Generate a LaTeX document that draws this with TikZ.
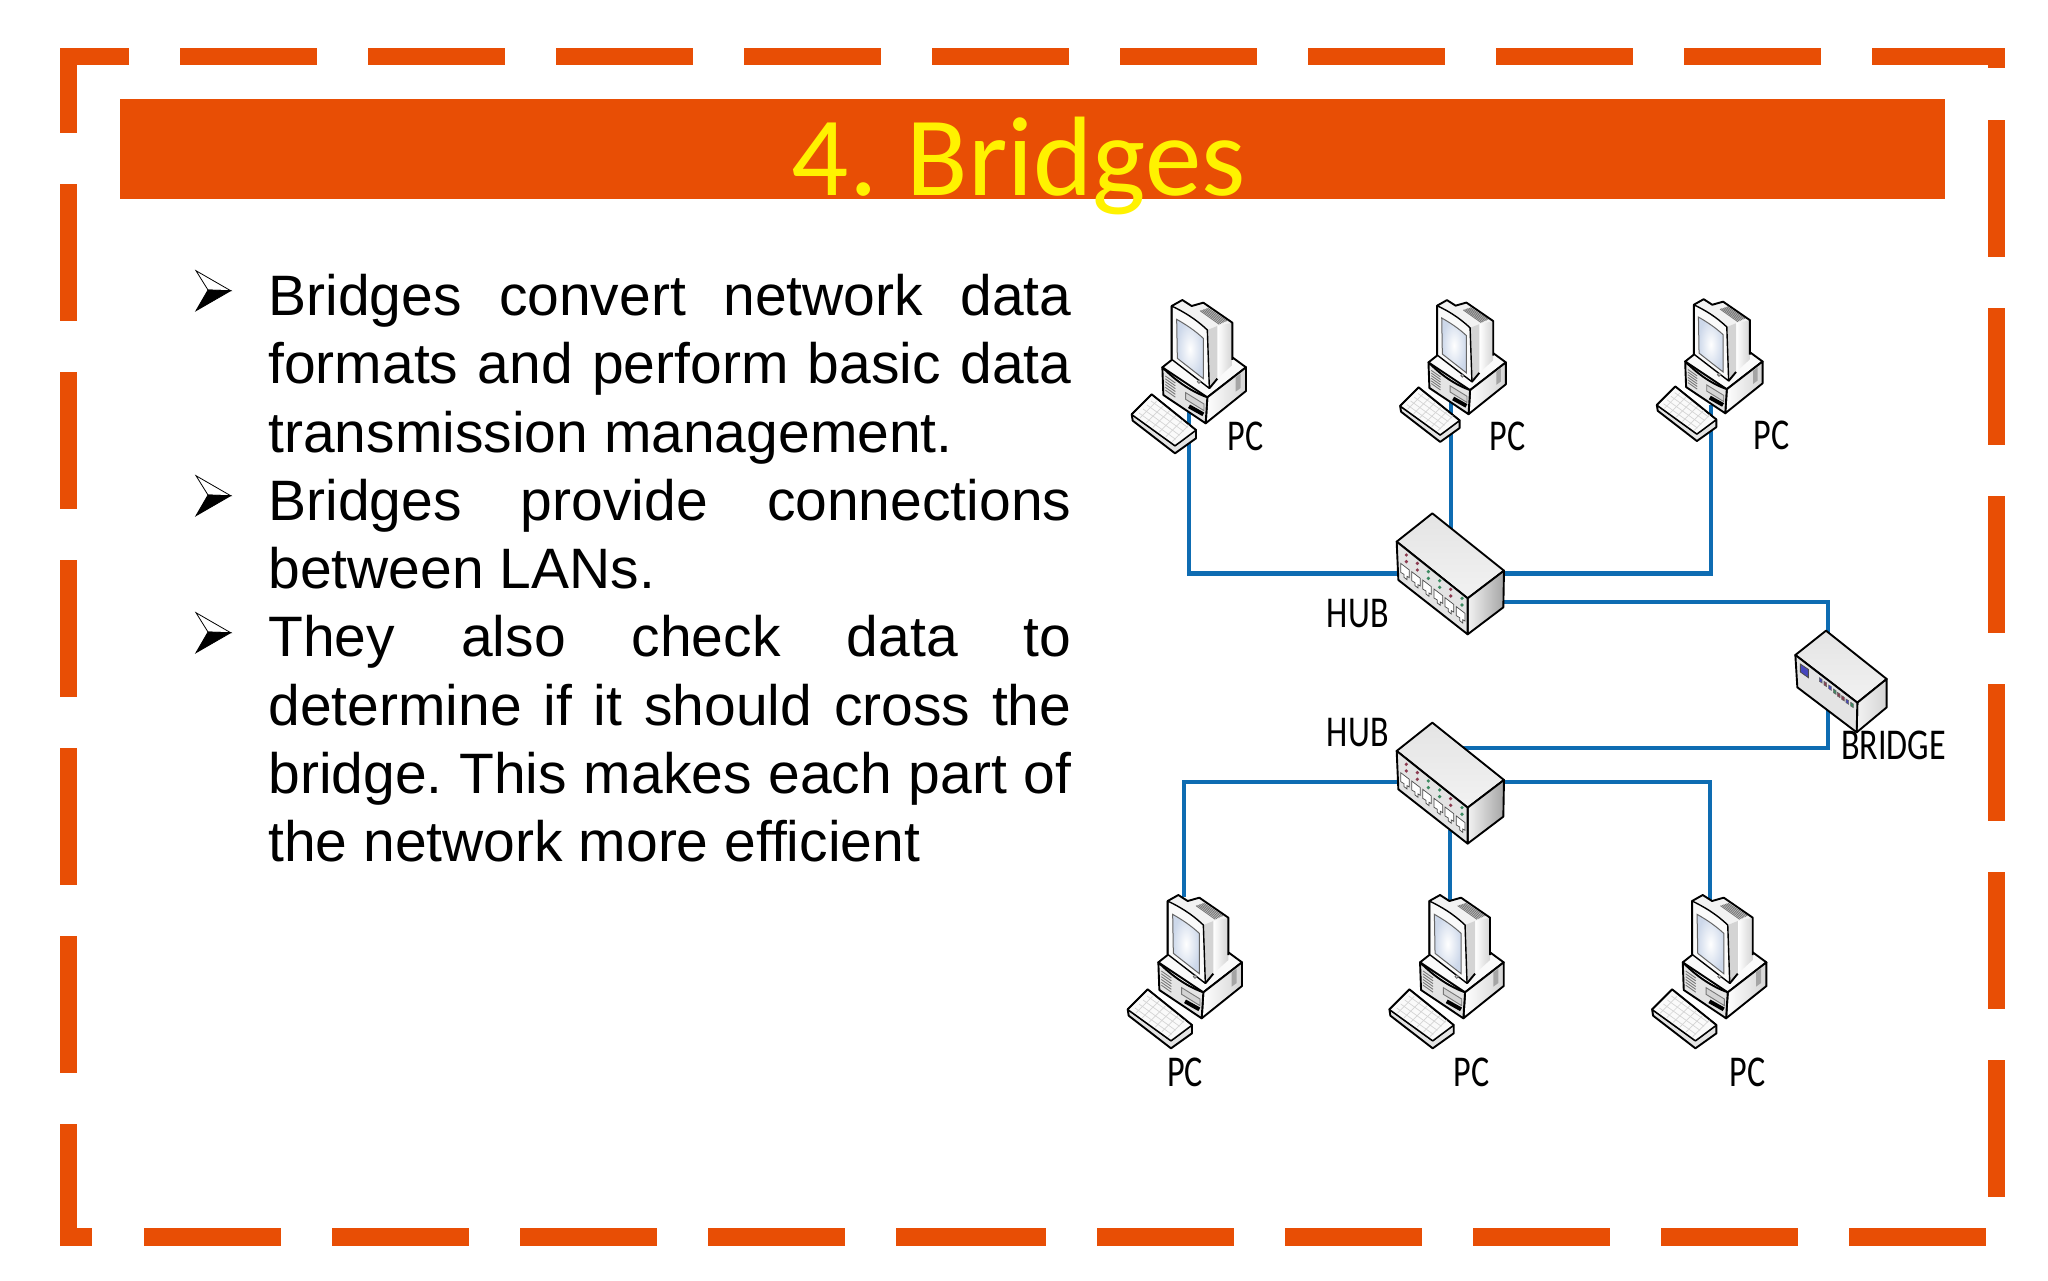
\documentclass[tikz,border=0pt]{standalone}
\usepackage{fontspec}
\setmainfont{Liberation Sans}
\newfontfamily\titlefont{Carlito}
\newfontfamily\labelfont[FakeStretch=0.775]{Carlito}
\definecolor{accent}{RGB}{232,78,5}
\definecolor{wirecol}{RGB}{14,108,178}
\definecolor{gW}{RGB}{250,250,250}
\definecolor{gA}{RGB}{242,242,242}
\definecolor{gB}{RGB}{228,228,228}
\definecolor{gC}{RGB}{212,212,212}
\definecolor{gD}{RGB}{165,165,165}
\definecolor{gE}{RGB}{120,120,120}
\definecolor{scr}{RGB}{205,216,234}
\definecolor{ledr}{RGB}{140,58,80}
\definecolor{ledg}{RGB}{58,138,96}
\definecolor{ledb}{RGB}{70,70,190}
\tikzset{
  outl/.style={draw=black,line width=.95pt,line join=round},
  hair/.style={draw=gE,line width=.45pt},
  keyline/.style={draw=gC,line width=.35pt},
  wire/.style={draw=wirecol,line width=2.2pt,line join=miter},
  pclabel/.style={anchor=base,inner sep=0pt,font=\labelfont\fontsize{22}{26}\selectfont},
  arrowbullet/.pic={
    \path[draw=black,fill=white,line width=.4pt,line join=miter] (-34.7,-20) -- (0,0) -- (-22.7,-.7) -- cycle;
    \path[draw=black,fill=black,line width=.4pt,line join=miter] (-22.7,-.7) -- (0,0) -- (-34.7,20) -- cycle;
  },
  pcicon/.pic={
    % base
    \path[outl,fill=gW] (127,262)--(165,232)--(337,232)--(378,262)--(262,352)--cycle;
    \path[outl,left color=white,right color=gC] (262,352)--(378,262)--(378,333)--(257,430)--cycle;
    \path[outl,fill=gB] (127,262) .. controls (170,305) and (215,335) .. (262,352) -- (257,430) -- (130,345) -- cycle;
    \foreach \i in {0,...,5} \draw[hair] ({136},{288+8.5*\i}) -- ({166},{309+8.5*\i});
    \path[draw=gE,line width=.45pt,fill=gC] (197,338)--(252,372)--(252,392)--(197,358)--cycle;
    \draw[black,line width=2pt] (207,379)--(250,403);
    \path[fill=gD] (347,292)--(362,281)--(362,324)--(347,335)--cycle;
    % monitor
    \path[fill=gA] (155,78)--(187,60)--(215,78)--(250,68)--(337,128)--(295,138)--(262,150) .. controls (225,115) and (190,95) .. (155,78) -- cycle;
    \foreach \i in {0,...,5} \draw[hair] ({240+4.5*\i},{92-1.5*\i}) -- ({298+4.5*\i},{133-2*\i});
    \path[left color=white,right color=gC] (292,138)--(337,128)--(337,255)--(292,296)--cycle;
    \path[fill=gC] (262,150)--(292,138)--(292,296)--(268,325)--cycle;
    \path[outl,line width=.7pt,fill=gW] (155,78) .. controls (190,95) and (225,115) .. (262,150) -- (268,325) -- (155,238) -- cycle;
    \path[draw=black!60,line width=.5pt,inner color=white,outer color=scr] (170,118) .. controls (200,135) and (225,152) .. (250,175) -- (250,296) -- (172,235) -- cycle;
    \path[draw=black!60,line width=.4pt,fill=gC] (237,305) circle[radius=5];
    \path[draw=black,line width=.95pt,line join=round] (155,238)--(155,78)--(187,60)--(215,78)--(250,68)--(337,128)--(337,240);
    \path[draw=black,line width=.95pt,line join=round] (268,325)--(292,296);
    % keyboard
    \path[outl,fill=gB] (35,403)--(38,422)--(165,520)--(228,475)--(228,450)--(165,497)--cycle;
    \path[outl,line width=.6pt,fill=gW] (35,403)--(95,343)--(228,450)--(165,497)--cycle;
    \draw[outl] (35,403)--(95,343)--(228,450);
    \foreach \u in {.2,.4,.6,.8} \draw[keyline] ({45+60*\u},{411-60*\u}) -- ({155+60*\u},{490-60*\u});
    \foreach \v in {.15,.3,.45,.6,.75,.9} \draw[keyline] ({40+130*\v},{400+94*\v}) -- ({90+130*\v},{350+94*\v});
  },
  hubicon/.pic={
    \path[outl,top color=gB,bottom color=gA] (397,40)--(612,212)--(503,295)--(290,125)--cycle;
    \path[outl,left color=gA,right color=gD] (503,295)--(612,212)--(610,322)--(503,403)--cycle;
    \path[outl,fill=gB] (290,125)--(503,295)--(503,403)--(295,240)--cycle;
    \foreach \x/\y/\c in {315/215/ledr,348/240/ledr,381/265/ledg,415/292/ledg,448/318/ledr,482/345/ledg}{
      \path[draw=black!70,line width=.35pt,fill=white] ({\x-13},{\y-25})--({\x+13},{\y-5})--({\x+13},{\y+18})--({\x+6},{\y+14})--({\x+6},{\y+24})--({\x-3},{\y+17})--({\x-3},{\y+8})--({\x-13},{\y+2})--cycle;
      \fill[\c] ({\x+4},{\y-50}) circle[radius=5.5];
      \fill[\c] ({\x+4},{\y-30}) circle[radius=5.5];
    }
  },
  bridgeicon/.pic={
    \path[outl,top color=gB,bottom color=gA] (318,92)--(500,237)--(412,308)--(226,165)--cycle;
    \path[outl,left color=gA,right color=gC] (412,308)--(500,237)--(500,322)--(410,397)--cycle;
    \path[outl,fill=gB] (226,165)--(412,308)--(410,397)--(232,262)--cycle;
    \path[draw=black!70,line width=.4pt,fill=ledb] (241,192)--(265,208)--(265,233)--(241,216)--cycle;
    \foreach \x/\y/\c in {302/241/ledb,316/252/ledr,330/263/ledb,344/275/ledg,356/285/ledr,369/295/ledr,382/305/ledb,396/315/ledg}{
      \path[draw=black!60,line width=.3pt,fill=\c] ({\x-4},{\y-8})--({\x+4},{\y-3})--({\x+4},{\y+8})--({\x-4},{\y+3})--cycle;
    }
  },
}
\begin{document}
\begin{tikzpicture}[x=.5pt,y=-.5pt]
\path[use as bounding box,fill=white] (0,0) rectangle (2048,1280);
% dashed frame
\fill[accent] (60,48) rectangle (128.7,65);
\foreach \k in {0,...,8} \fill[accent] ({180+188*\k},48) rectangle ({317+188*\k},65);
\fill[accent] (1872,48) rectangle (2005,65);
\fill[accent] (1988,48) rectangle (2005,68.3);
\foreach \k in {0,...,5} \fill[accent] (1988,{120+188*\k}) rectangle (2005,{257+188*\k});
\fill[accent] (60,48) rectangle (76.7,132.7);
\foreach \k in {0,...,4} \fill[accent] (60,{184+188*\k}) rectangle (76.7,{321+188*\k});
\fill[accent] (60,1124) rectangle (76.7,1245.5);
\fill[accent] (60,1228) rectangle (92.3,1245.5);
\foreach \k in {0,...,3} \fill[accent] ({143.7+188*\k},1228) rectangle ({280.7+188*\k},1245.5);
\fill[accent] (896,1228) rectangle (1046,1245.5);
\foreach \k in {0,...,4} \fill[accent] ({1097+188*\k},1228) rectangle ({1234+188*\k},1245.5);
% title
\fill[accent] (119.8,99.3) rectangle (1945.3,198.7);
\node[anchor=base,inner sep=0pt,text=yellow,font=\titlefont\fontsize{56.5}{60}\selectfont] (title) at (1018.7,195) {\spaceskip=.18em 4. Bridges};
% body
\node[anchor=north west,inner sep=0pt,text width=401.5pt,align=justify,font=\fontsize{28.5}{34.15}\selectfont] (body) at (268,273.7) {%
\tolerance=10000\hyphenpenalty=10000\emergencystretch=20pt\parindent=0pt\parskip=0pt\frenchspacing
Bridges convert network data\linebreak formats and perform basic data\linebreak transmission management.\par
Bridges provide connections\linebreak between LANs.\par
They also check data to\linebreak determine if it should cross the\linebreak bridge. This makes each part of\linebreak the network more efficient\par};
\pic at (230.7,290.7) {arrowbullet};
\pic at (230.7,495.7) {arrowbullet};
\pic at (230.7,632.7) {arrowbullet};
% connection points
\coordinate (pcA) at (1189,405);
\coordinate (pcB) at (1451,400);
\coordinate (pcC) at (1711,405);
\coordinate (hubAw) at (1400,573.5);
\coordinate (hubAn) at (1451,540);
\coordinate (hubAe) at (1500,573.5);
\coordinate (hubAf) at (1500,602);
\coordinate (brN) at (1828,680);
\coordinate (brS) at (1828,700);
\coordinate (hubBf) at (1440,748);
\coordinate (hubBw) at (1400,781.7);
\coordinate (hubBe) at (1500,781.7);
\coordinate (hubBs) at (1450,830);
\coordinate (pcD) at (1184,897);
\coordinate (pcE) at (1450,903);
\coordinate (pcF) at (1710,900);
% connectors
\draw[wire] (pcA) |- (hubAw);
\draw[wire] (pcB) -- (hubAn);
\draw[wire] (pcC) |- (hubAe);
\draw[wire] (hubAf) -| (brN);
\draw[wire] (brS) |- (hubBf);
\draw[wire] (pcD) |- (hubBw);
\draw[wire] (hubBs) -- (pcE);
\draw[wire] (pcF) |- (hubBe);
% icons
\pic[scale=.3333] at (1120,280) {pcicon};
\pic[scale=.3083] at (1389.3,281.6) {pcicon};
\pic[scale=.3083] at (1646,280.7) {pcicon};
\pic[scale=.3333] at (1116,875) {pcicon};
\pic[scale=.3333] at (1377.7,875) {pcicon};
\pic[scale=.3333] at (1640.4,875) {pcicon};
\pic[scale=.3333] at (1300,500) {hubicon};
\pic[scale=.3333] at (1300,709.3) {hubicon};
\pic[scale=.3333] at (1720,600) {bridgeicon};
% labels
\node[pclabel] (lA) at (1245.5,450) {PC};
\node[pclabel] (lB) at (1507.5,450) {PC};
\node[pclabel] (lC) at (1771.5,449) {PC};
\node[pclabel] (lD) at (1185,1086) {PC};
\node[pclabel] (lE) at (1471.5,1086) {PC};
\node[pclabel] (lF) at (1747.5,1086) {PC};
\node[pclabel] (lH) at (1357.8,627.3) {HUB};
\node[pclabel] (lI) at (1357.8,746) {HUB};
\node[pclabel] (lJ) at (1893.4,759) {BRIDGE};
\end{tikzpicture}
\end{document}
